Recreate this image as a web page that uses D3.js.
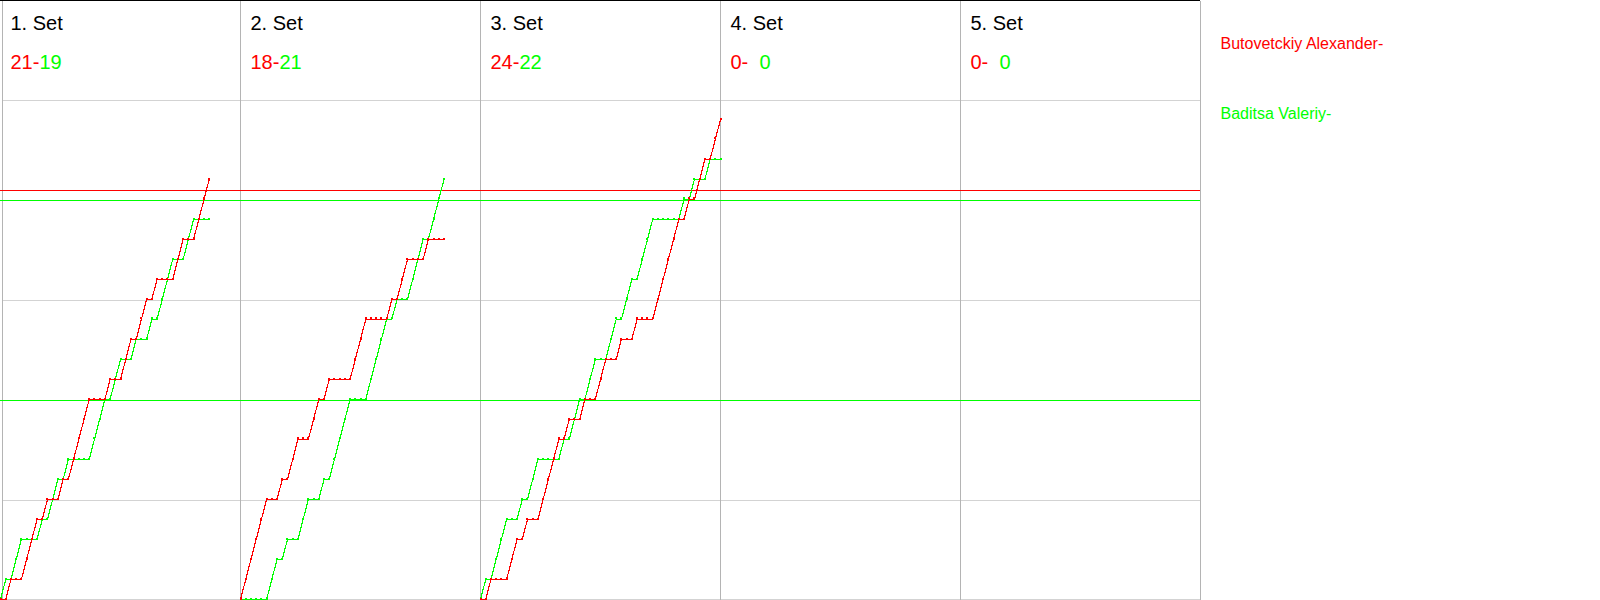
<!DOCTYPE html>
<html><head><meta charset="utf-8">
<script src="https://cdn.jsdelivr.net/npm/d3@7"></script>
<style>
body{margin:0;background:#fff}
svg{display:block}
text{font-family:"Liberation Sans",Arial,sans-serif}
</style>
</head><body>
<svg id="chart" width="1600" height="600"></svg>
<script>
// ---------- data ----------
const setLabels = ["1. Set", "2. Set", "3. Set", "4. Set", "5. Set"];
const redScores = [21, 18, 24, 0, 0];
const greenScores = [19, 21, 22, 0, 0];
const playerRed = "Butovetckiy Alexander-";
const playerGreen = "Baditsa Valeriy-";
// rally winners per set (R = red player, G = green player)
const set1Winners = ["G","R","G","G","R","R","R","G","R","G",
                     "G","R","G","R","R","R","R","G","G","G",
                     "R","G","G","R","R","G","R","R","G","R",
                     "G","G","G","R","R","G","G","R","R","R"];
const set2Winners = ["R","R","R","R","R","G","G","R","G","R",
                     "R","G","G","R","R","G","R","G","G","G",
                     "G","R","R","R","G","G","G","G","R","G",
                     "R","R","G","G","G","R","G","G","G"];
const set3Winners = ["G","R","G","G","G","R","R","G","R","G",
                     "G","R","R","R","R","G","R","G","G","R",
                     "G","G","R","R","G","G","R","G","G","R",
                     "G","G","G","R","R","R","R","R","G","R",
                     "G","R","R","G","R","R"];
const set4Winners = [];
const set5Winners = [];
const redRefLines = [20.5];
const greenRefLines = [20, 10];
const gridScores = [5, 10, 15, 20, 25];

// ---------- layout ----------
const RED = "#ff0000", GREEN = "#00ff00";
const svg = d3.select("#chart");
const allWinners = [set1Winners, set2Winners, set3Winners, set4Winners, set5Winners];
const maxRallies = d3.max(allWinners, w => w.length);

const colX = d3.scaleBand().domain(d3.range(setLabels.length)).range([0, 1200]).padding(0);
const xR = d3.scaleLinear().domain([0, maxRallies]).range([0, colX.bandwidth()]);
const y = d3.scaleLinear().domain([0, 25]).range([600, 100]);
const row = v => Math.min(Math.round(v), 599) + 0.5;

// grid: horizontal
const gGrid = svg.append("g").attr("shape-rendering", "crispEdges");
gGrid.selectAll("line.h").data(gridScores.concat([0])).join("line")
  .attr("x1", 2).attr("x2", 1200)
  .attr("y1", d => row(y(d))).attr("y2", d => row(y(d)))
  .attr("stroke", "#d3d3d3").attr("stroke-width", 1);
// grid: vertical
gGrid.selectAll("line.v").data(d3.range(setLabels.length + 1)).join("line")
  .attr("x1", i => Math.max(2, i * colX.bandwidth()) + 0.5)
  .attr("x2", i => Math.max(2, i * colX.bandwidth()) + 0.5)
  .attr("y1", 1).attr("y2", 600)
  .attr("stroke", "#b4b4b4").attr("stroke-width", 1);
// top border
gGrid.append("line").attr("x1", 0).attr("x2", 1200).attr("y1", 0.5).attr("y2", 0.5)
  .attr("stroke", "#000").attr("stroke-width", 1);

// reference lines
const gRef = svg.append("g").attr("shape-rendering", "crispEdges");
gRef.selectAll("line.r").data(redRefLines).join("line")
  .attr("x1", 0).attr("x2", 1200)
  .attr("y1", d => row(y(d))).attr("y2", d => row(y(d)))
  .attr("stroke", RED).attr("stroke-width", 1);
gRef.selectAll("line.g").data(greenRefLines).join("line")
  .attr("x1", 0).attr("x2", 1200)
  .attr("y1", d => row(y(d))).attr("y2", d => row(y(d)))
  .attr("stroke", GREEN).attr("stroke-width", 1);

// score progression
function cumulative(winners, who) {
  let s = 0;
  const pts = [{k: 0, s: 0}];
  winners.forEach((w, i) => { if (w === who) s += 1; pts.push({k: i + 1, s}); });
  return pts;
}
const line = d3.line().x(d => d.x).y(d => d.y);
allWinners.forEach((winners, si) => {
  if (!winners.length) return;
  const x0 = colX(si);
  [["G", GREEN], ["R", RED]].forEach(([who, color]) => {
    const pts = cumulative(winners, who).map(d => ({x: x0 + xR(d.k) + 0.5, y: y(d.s) - 0.5}));
    const g = svg.append("g").attr("shape-rendering", "crispEdges");
    g.append("path").attr("d", line(pts)).attr("fill", "none")
      .attr("stroke", color).attr("stroke-width", 1.2);
    g.selectAll("rect").data(pts).join("rect")
      .attr("x", d => Math.round(d.x) - 1).attr("y", d => Math.round(d.y) - 2)
      .attr("width", 2).attr("height", 2).attr("fill", color);
  });
});

// headers
const gHead = svg.append("g");
setLabels.forEach((lab, i) => {
  const x0 = colX(i);
  gHead.append("text").attr("x", x0 + 10.5).attr("y", 30)
    .attr("font-size", 20).attr("fill", "#000").text(lab);
  gHead.append("text").attr("x", x0 + 10.5).attr("y", 69)
    .attr("font-size", 20).attr("fill", RED).text(redScores[i] + "-");
  gHead.append("text").attr("x", x0 + 39.5).attr("y", 69)
    .attr("font-size", 20).attr("fill", GREEN).text(greenScores[i]);
});

// legend
svg.append("text").attr("x", 1220.5).attr("y", 49).attr("font-size", 16)
  .attr("fill", RED).text(playerRed);
svg.append("text").attr("x", 1220.5).attr("y", 119).attr("font-size", 16)
  .attr("fill", GREEN).text(playerGreen);
</script>
</body></html>
